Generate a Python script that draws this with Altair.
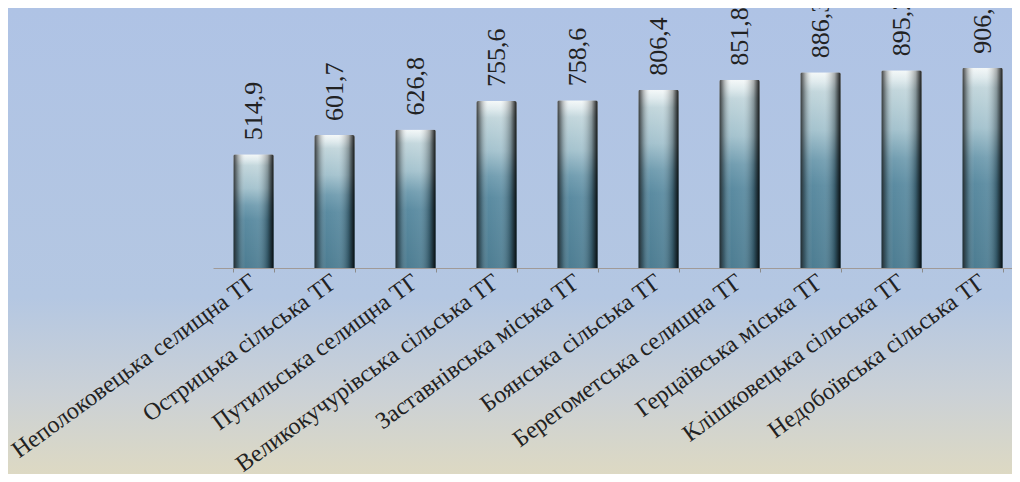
import altair as alt
import pandas as pd

categories = [
    "Неполоковецька селищна ТГ",
    "Острицька сільська ТГ",
    "Путильська селищна ТГ",
    "Великокучурівська сільська ТГ",
    "Заставнівська міська ТГ",
    "Боянська сільська ТГ",
    "Берегометська селищна ТГ",
    "Герцаївська міська ТГ",
    "Клішковецька сільська ТГ",
    "Недобоївська сільська ТГ",
]
values = [514.9, 601.7, 626.8, 755.6, 758.6, 806.4, 851.8, 886.3, 895.2, 906.4]

df = pd.DataFrame({"cat": categories, "val": values})
df["lbl"] = [f"{v:.1f}".replace(".", ",") for v in values]

W, H = 799, 221
PAD = {"left": 205, "top": 39, "right": 0, "bottom": 206}

xenc = alt.X(
    "cat:N",
    sort=None,
    title=None,
    scale=alt.Scale(range=[0, 810], paddingInner=0.5, paddingOuter=0.25),
    axis=alt.Axis(
        labelAngle=-36,
        labelAlign="right",
        labelBaseline="middle",
        labelPadding=7,
        labelFont="Liberation Serif",
        labelFontSize=24,
        labelColor="#222222",
        labelLimit=600,
        tickBand="extent",
        tickSize=4,
        tickColor="#8c8c8c",
        domainColor="#a09a98",
        grid=False,
        zindex=2,
    ),
)
yenc = alt.Y("val:Q", scale=alt.Scale(domain=[0, 1000]), axis=None)

bg = alt.Chart(pd.DataFrame({"a": [0]})).mark_rect(
    color=alt.Gradient(
        gradient="linear",
        x1=0, y1=0, x2=0, y2=1,
        stops=[
            alt.GradientStop(offset=0, color="#afc3e5"),
            alt.GradientStop(offset=0.62, color="#b4c7e2"),
            alt.GradientStop(offset=0.83, color="#cbd1d6"),
            alt.GradientStop(offset=1, color="#ddd9c3"),
        ],
    )
).encode(
    x=alt.value(-PAD["left"]),
    x2=alt.value(W + 20),
    y=alt.value(-PAD["top"]),
    y2=alt.value(H + PAD["bottom"]),
)

bars = alt.Chart(df).mark_bar(
    color=alt.Gradient(
        gradient="linear",
        x1=0, y1=0, x2=0, y2=1,
        stops=[
            alt.GradientStop(offset=0, color="#f4f8f8"),
            alt.GradientStop(offset=0.05, color="#dde9ec"),
            alt.GradientStop(offset=0.1, color="#bfd4da"),
            alt.GradientStop(offset=0.3, color="#9fbfcb"),
            alt.GradientStop(offset=0.45, color="#6a98ac"),
            alt.GradientStop(offset=0.58, color="#52859c"),
            alt.GradientStop(offset=1, color="#44768c"),
        ],
    ),
    cornerRadiusTopLeft=2,
    cornerRadiusTopRight=2,
).encode(x=xenc, y=yenc)

shade = alt.Chart(df).mark_bar(
    color=alt.Gradient(
        gradient="linear",
        x1=0, y1=0, x2=1, y2=0,
        stops=[
            alt.GradientStop(offset=0, color="rgba(25,25,25,0.85)"),
            alt.GradientStop(offset=0.12, color="rgba(40,40,40,0.35)"),
            alt.GradientStop(offset=0.3, color="rgba(255,255,255,0.05)"),
            alt.GradientStop(offset=0.6, color="rgba(255,255,255,0.1)"),
            alt.GradientStop(offset=0.85, color="rgba(0,0,0,0.3)"),
            alt.GradientStop(offset=1, color="rgba(0,0,0,0.9)"),
        ],
    ),
    cornerRadiusTopLeft=2,
    cornerRadiusTopRight=2,
).encode(x=xenc, y=yenc)

labels = alt.Chart(df).mark_text(
    angle=270,
    align="left",
    baseline="middle",
    dx=14,
    font="Liberation Serif",
    fontSize=26,
    color="#222222",
).encode(x=xenc, y=yenc, text="lbl:N")

chart = alt.layer(bg, bars, shade, labels).properties(
    width=W,
    height=H,
    padding=PAD,
    autosize=alt.AutoSizeParams(type="none"),
    background="#afc3e5",
).configure_view(stroke=None)

chart.save("out.html", embed_options={"renderer": "svg", "actions": False})
